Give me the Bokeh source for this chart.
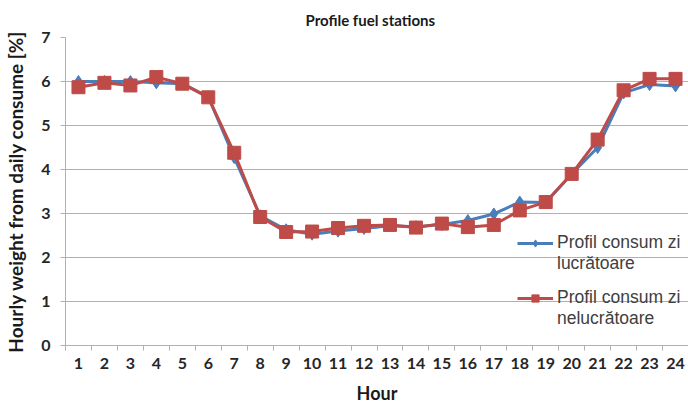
from bokeh.plotting import figure
from bokeh.models import Range1d, FixedTicker, Legend, LegendItem, Title
from bokeh.embed import file_html
from bokeh.resources import INLINE

hours = list(range(1, 25))
working = [6.0, 6.0, 6.0, 5.97, 5.95, 5.65, 4.27, 2.95, 2.63, 2.53, 2.6, 2.66, 2.72, 2.7, 2.75,
           2.84, 2.99, 3.26, 3.25, 3.9, 4.5, 5.74, 5.93, 5.9]
nonworking = [5.87, 5.97, 5.91, 6.1, 5.95, 5.64, 4.38, 2.92, 2.58, 2.59, 2.67, 2.72, 2.74, 2.68, 2.77,
              2.69, 2.74, 3.07, 3.26, 3.9, 4.68, 5.8, 6.06, 6.06]
y_ticks = [0, 1, 2, 3, 4, 5, 6, 7]
label_working = ["Profil consum zi", "lucrătoare"]
label_nonworking = ["Profil consum zi", "nelucrătoare"]

BLUE = "#4a7ebb"
RED = "#be4b48"
GRID = "#b0b0b0"
FONT = "Lato"

p = figure(width=688, height=406, output_backend="svg", toolbar_location=None,
           x_range=Range1d(0.5, 24.5), y_range=Range1d(0, 7),
           min_border_left=65, min_border_right=0, min_border_top=37, min_border_bottom=60)
p.title = None
t = Title(text="Profile fuel stations", align="left", offset=240, standoff=17,
          text_font=FONT, text_font_size="15px", text_font_style="bold", text_color="#1a1a1a")
p.add_layout(t, "above")

p.outline_line_color = None
p.background_fill_color = "white"
p.border_fill_color = "white"

p.xgrid.visible = False
p.ygrid.grid_line_color = GRID
p.ygrid.grid_line_width = 1
p.ygrid.ticker = FixedTicker(ticks=y_ticks)

p.xaxis.ticker = FixedTicker(ticks=hours, minor_ticks=[h - 0.5 for h in hours] + [24.5])
p.xaxis.major_tick_out = 0
p.xaxis.major_tick_in = 0
p.xaxis.minor_tick_out = 5
p.xaxis.minor_tick_in = 0
p.xaxis.minor_tick_line_color = GRID
p.xaxis.axis_line_color = GRID
p.xaxis.axis_label = "Hour"
p.xaxis.major_label_standoff = 7

p.yaxis.ticker = FixedTicker(ticks=y_ticks)
p.yaxis.major_tick_out = 5
p.yaxis.major_tick_in = 0
p.yaxis.minor_tick_line_color = None
p.yaxis.major_tick_line_color = GRID
p.yaxis.axis_line_color = GRID
p.yaxis.axis_label = "Hourly weight from daily consume [%]"
p.yaxis.major_label_standoff = 10

for ax in (p.xaxis, p.yaxis):
    ax.major_label_text_font = FONT
    ax.major_label_text_font_size = "16px"
    ax.major_label_text_font_style = "bold"
    ax.major_label_text_color = "#262626"
    ax.axis_label_text_font = FONT
    ax.axis_label_text_font_size = "18px"
    ax.axis_label_text_font_style = "bold"
    ax.axis_label_text_color = "#1a1a1a"
p.yaxis.axis_label_text_font_size = "19px"
p.xaxis.axis_label_standoff = 10
p.yaxis.axis_label_standoff = 11

l1 = p.line(hours, working, line_color=BLUE, line_width=3)
m1 = p.scatter(hours, working, marker="diamond", size=12, fill_color=BLUE, line_color=BLUE)
l2 = p.line(hours, nonworking, line_color=RED, line_width=3)
m2 = p.scatter(hours, nonworking, marker="square", size=13, fill_color=RED, line_color=RED)
# invisible renderer so that the second line of each legend label carries no glyph
blank = p.line([], [], line_alpha=0)


def make_legend(lines, renderers, loc):
    lg = Legend(items=[LegendItem(label=lines[0], renderers=renderers),
                       LegendItem(label=lines[1], renderers=[blank])],
                location=loc, orientation="vertical")
    lg.background_fill_alpha = 0
    lg.border_line_color = None
    lg.margin = 0
    lg.padding = 0
    lg.spacing = 0
    lg.glyph_width = 36
    lg.glyph_height = 18
    lg.label_height = 18
    lg.label_standoff = 4
    lg.label_text_font = "Liberation Sans"
    lg.label_text_font_size = "17.5px"
    lg.label_text_color = "#404040"
    return lg


p.add_layout(make_legend(label_working, [l1, m1], (452, 71)), "center")
p.add_layout(make_legend(label_nonworking, [l2, m2], (452, 16)), "center")

open("out.html", "w").write(file_html(p, INLINE))
